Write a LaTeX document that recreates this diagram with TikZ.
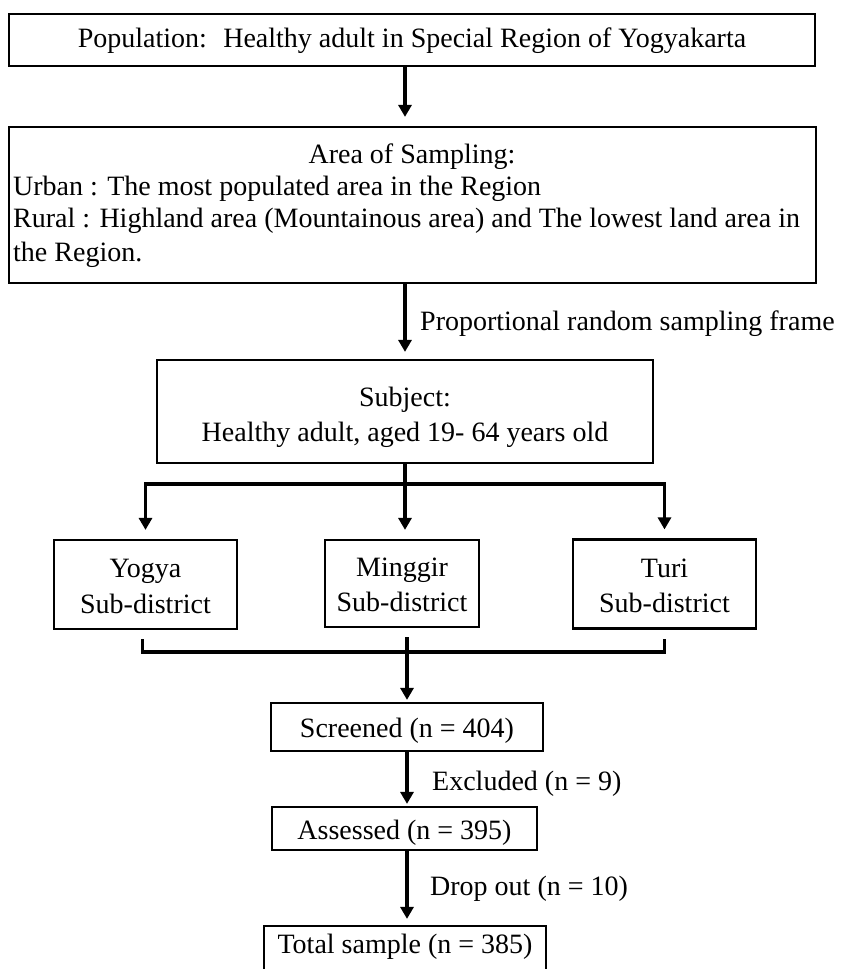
\documentclass[tikz,border=0pt]{standalone}
\usepackage{fontspec}
\setmainfont{Liberation Serif}
\usetikzlibrary{arrows.meta,calc}
\begin{document}
\begin{tikzpicture}[x=1pt,y=-1pt,
  box/.style={draw,line width=2.2pt,inner sep=0pt},
  txt/.style={inner sep=0pt,font=\fontsize{28}{34}\selectfont},
  flow/.style={line width=3.8pt},
  arr/.style={flow,-{Triangle[width=13pt,length=12pt]}}]

% page and clipping frame
\fill[white] (0,0) rectangle (841,969);
\useasboundingbox (0,0) rectangle (841,969);
\clip (0,0) rectangle (841,969);

% boxes
\node[box,minimum width=806,minimum height=52] (top) at (412,40) {};
\node[box,minimum width=807,minimum height=156] (area) at (412.5,205) {};
\node[box,minimum width=496,minimum height=103] (subj) at (405,411.5) {};
\node[box,minimum width=183,minimum height=89] (yogya) at (145.5,584.5) {};
\node[box,minimum width=154,minimum height=87] (minggir) at (402,583.5) {};
\node[box,minimum width=183,minimum height=89] (turi) at (664.5,584) {};
\node[box,minimum width=272,minimum height=48] (screened) at (407,727) {};
\node[box,minimum width=265,minimum height=43] (assessed) at (404.5,828.5) {};
\node[box,minimum width=282,minimum height=60] (total) at (405,956) {};

% box texts
\node[txt,anchor=base] (ttop) at (412,47) {Population:~ Healthy adult in Special Region of Yogyakarta};
\node[txt,anchor=base] (tarea) at (412,163) {Area of Sampling:};
\node[txt,anchor=base west] (turban) at (13,195) {Urban : The most populated area in the Region};
\node[txt,anchor=base west] (trural) at (13,227) {Rural : Highland area (Mountainous area) and The lowest land area in};
\node[txt,anchor=base west] (tregion) at (13,261) {the Region.};
\node[txt,anchor=base] (tsubj) at (405,406) {Subject:};
\node[txt,anchor=base] (tage) at (405,441) {Healthy adult, aged 19- 64 years old};
\node[txt,anchor=base] (tyogya) at (145.5,577) {Yogya};
\node[txt,anchor=base] (tyogyasd) at (145.5,613) {Sub-district};
\node[txt,anchor=base] (tminggir) at (402,576) {Minggir};
\node[txt,anchor=base] (tminggirsd) at (402,611) {Sub-district};
\node[txt,anchor=base] (tturi) at (664.5,577) {Turi};
\node[txt,anchor=base] (tturisd) at (664.5,612) {Sub-district};
\node[txt,anchor=base] (tscreened) at (407,737) {Screened (n = 404)};
\node[txt,anchor=base] (tassessed) at (404.5,839) {Assessed (n = 395)};
\node[txt,anchor=base] (ttotal) at (405,953) {Total sample (n = 385)};

% connector labels
\node[txt,anchor=base west] (lprop) at (420,330) {Proportional random sampling frame};
\node[txt,anchor=base west] (lexcl) at (432,790) {Excluded (n = 9)};
\node[txt,anchor=base west] (ldrop) at (430,895) {Drop out (n = 10)};

% main column
\draw[arr,shorten >=9pt] (top.south -| subj.north) -- (area.north -| subj.north);
\draw[arr,shorten >=7pt] (area.south -| subj.north) -- (subj.north);

% split to the three sub-districts
\coordinate (split) at ($(subj.south)+(0,20)$);
\draw[arr,shorten >=9pt] (split) -| (yogya.north);
\draw[arr,shorten >=9pt] (split) -| (turi.north);
\draw[arr,shorten >=9pt] (subj.south) -- (subj.south |- minggir.north);

% merge bracket
\coordinate (join) at (406,652);
\draw[flow] ($(yogya.south)+(-3,9)$) |- (join) -| ($(turi.south)+(0,9)$);
\draw[arr,shorten >=2pt] ($(minggir.south -| screened.north)+(0,9)$) -- (screened.north);

% screening steps
\draw[arr,shorten >=2pt] (screened.south) -- (screened.south |- assessed.north);
\draw[arr,shorten >=6pt] (assessed.south -| screened.south) -- (screened.south |- total.north);
\end{tikzpicture}
\end{document}
